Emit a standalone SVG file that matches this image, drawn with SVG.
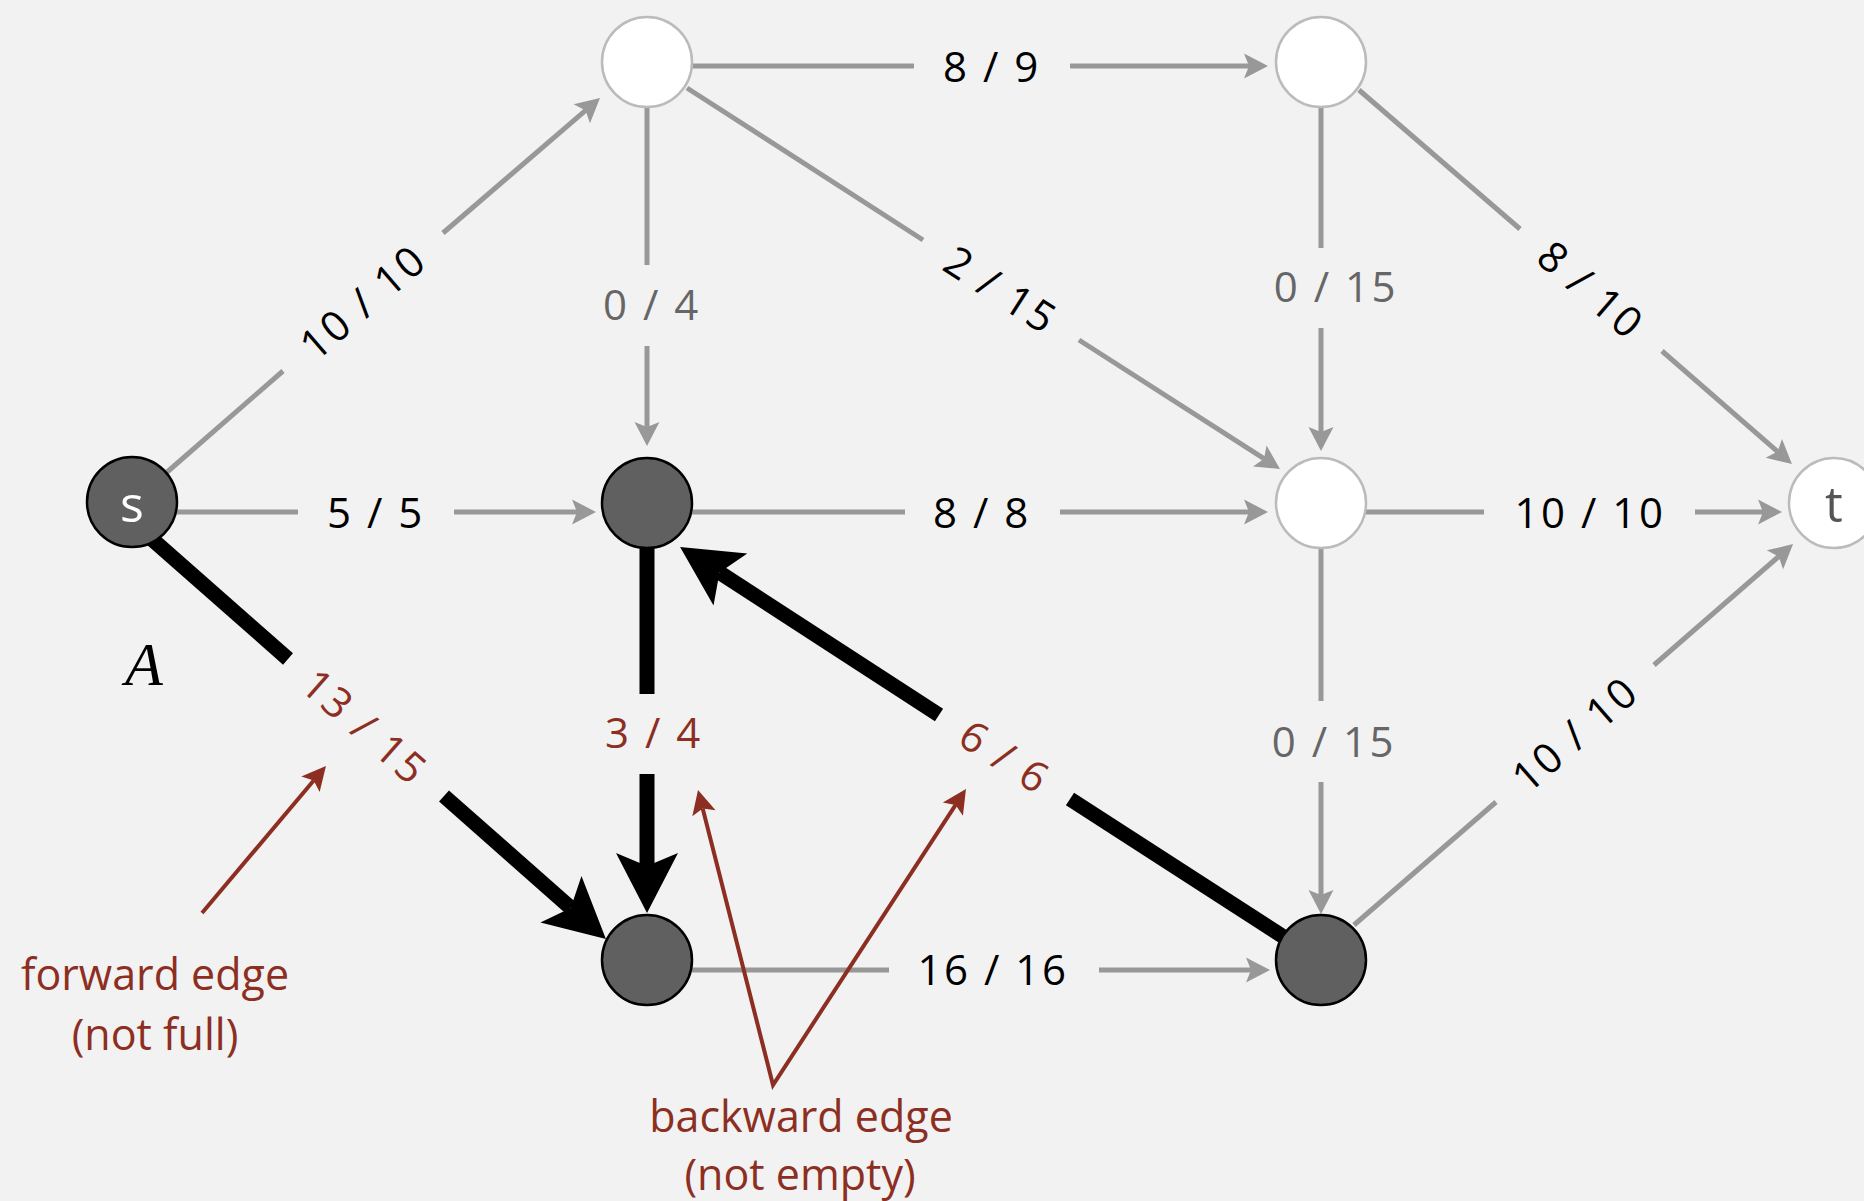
<svg xmlns="http://www.w3.org/2000/svg" width="1864" height="1201" viewBox="0 0 1864 1201">
<defs>
<style>
.bg{fill:#f2f2f2}
.e{stroke:#989898;stroke-width:5;fill:none}
.ea{stroke:#989898;stroke-width:5;fill:none;marker-end:url(#ag)}
.t{stroke:#000;stroke-width:15;fill:none}
.ta{stroke:#000;stroke-width:15;fill:none;marker-end:url(#ab)}
.r{stroke:#8c2f22;stroke-width:4;fill:none;stroke-linejoin:miter}
.lbl{font-family:"Open Sans","Liberation Sans",sans-serif;font-size:42px;letter-spacing:2.5px;text-anchor:middle;fill:#000}
.gl{fill:#666}
.rl{fill:#8c2f22}
.ann{font-family:"Open Sans","Liberation Sans",sans-serif;font-size:43px;text-anchor:middle;fill:#8c2f22}
.dk{fill:#606060;stroke:#000;stroke-width:2.5}
.wh{fill:#fff;stroke:#bbb;stroke-width:2.5}
.nl{font-family:"Open Sans","Liberation Sans",sans-serif;font-size:50px;text-anchor:middle}
</style>
<marker id="ag" markerUnits="userSpaceOnUse" viewBox="-7 -13 27 26" refX="0" refY="0" markerWidth="27" markerHeight="26" orient="auto">
<path d="M0,0 L-5,-12.5 L19,0 L-5,12.5 Z" fill="#989898"/>
</marker>
<marker id="ar" markerUnits="userSpaceOnUse" viewBox="-7 -13 27 26" refX="0" refY="0" markerWidth="27" markerHeight="26" orient="auto-start-reverse">
<path d="M0,0 L-5,-12 L19,0 L-5,12 Z" fill="#8c2f22"/>
</marker>
<marker id="ab" markerUnits="userSpaceOnUse" viewBox="-14 -32 62 64" refX="0" refY="0" markerWidth="62" markerHeight="64" orient="auto">
<path d="M0,0 L-13,-31 L47,0 L-13,31 Z" fill="#000"/>
</marker>
</defs>
<rect class="bg" x="0" y="0" width="1864" height="1201"/>

<g id="connectors">
<g id="e-s-a">
<path class="e" d="M166,473 L283,371"/>
<path class="ea" d="M443,233 L585.6,110.4"/>
<text class="lbl" transform="translate(363,302) rotate(-40.7)" x="0" y="15">10 / 10</text>
</g>
<g id="e-s-b">
<path class="e" d="M177,512 L298,512"/>
<path class="ea" d="M454,512 L577,512"/>
<text class="lbl" x="376" y="528">5 / 5</text>
</g>
<g id="e-a-b">
<path class="e" d="M647,107 L647,265"/>
<path class="ea" d="M647,346 L647,427"/>
<text class="lbl gl" x="652" y="320">0 / 4</text>
</g>
<g id="e-a-d">
<path class="e" d="M692,66 L914,66"/>
<path class="ea" d="M1070,66 L1249,66"/>
<text class="lbl" x="992" y="82">8 / 9</text>
</g>
<g id="e-a-e">
<path class="e" d="M687,88 L923,240"/>
<path class="ea" d="M1079,340 L1264,458.7"/>
<text class="lbl" transform="translate(1001,290) rotate(32.7)" x="0" y="15">2 / 15</text>
</g>
<g id="e-b-e">
<path class="e" d="M692,512 L905,512"/>
<path class="ea" d="M1060,512 L1249,512"/>
<text class="lbl" x="982" y="528">8 / 8</text>
</g>
<g id="e-d-e">
<path class="e" d="M1321,107 L1321,248"/>
<path class="ea" d="M1321,328 L1321,432"/>
<text class="lbl gl" x="1336" y="302">0 / 15</text>
</g>
<g id="e-d-t">
<path class="e" d="M1359,90 L1520,229"/>
<path class="ea" d="M1662,351 L1777.6,451.6"/>
<text class="lbl" transform="translate(1591,290) rotate(40.8)" x="0" y="15">8 / 10</text>
</g>
<g id="e-e-t">
<path class="e" d="M1366,512 L1484,512"/>
<path class="ea" d="M1695,512 L1763,512"/>
<text class="lbl" x="1590" y="528">10 / 10</text>
</g>
<g id="e-e-f">
<path class="e" d="M1321,548 L1321,701"/>
<path class="ea" d="M1321,782 L1321,895"/>
<text class="lbl gl" x="1334" y="757">0 / 15</text>
</g>
<g id="e-f-t">
<path class="e" d="M1354,925 L1496,802"/>
<path class="ea" d="M1654,665 L1778.7,556.5"/>
<text class="lbl" transform="translate(1575,734) rotate(-41)" x="0" y="15">10 / 10</text>
</g>
<g id="e-c-f">
<path class="e" d="M692,970 L889,970"/>
<path class="ea" d="M1099,970 L1251,970"/>
<text class="lbl" x="993" y="985">16 / 16</text>
</g>
<g id="e-s-c">
<path class="t" d="M145,533 L288,659"/>
<path class="ta" d="M444,796 L570.7,907.9"/>
<text class="lbl rl" transform="translate(365,727) rotate(41.3)" x="0" y="15">13 / 15</text>
</g>
<g id="e-b-c">
<path class="t" d="M647,540 L647,694"/>
<path class="ta" d="M647,774 L647,866"/>
<text class="lbl rl" x="654" y="748">3 / 4</text>
</g>
<g id="e-f-b">
<path class="t" d="M1290,941 L1070,799"/>
<path class="ta" d="M939,715 L719.5,572.5"/>
<text class="lbl rl" transform="translate(1005,757) rotate(32.9)" x="0" y="15">6 / 6</text>
</g>
<g id="ann-forward">
<path class="r" d="M202,913 L313.7,780.5" marker-end="url(#ar)"/>
</g>
<g id="ann-backward">
<path class="r" d="M702.7,808.4 L773,1085 L955.6,804.9" marker-start="url(#ar)" marker-end="url(#ar)"/>
</g>
</g>

<g id="node-s"><circle class="dk" cx="132" cy="502" r="45"/><text class="nl" x="132" y="522" fill="#fff">s</text></g>
<g id="node-a"><circle class="wh" cx="647" cy="62" r="45"/></g>
<g id="node-b"><circle class="dk" cx="647" cy="503" r="45"/></g>
<g id="node-c"><circle class="dk" cx="647" cy="960" r="45"/></g>
<g id="node-d"><circle class="wh" cx="1321" cy="62" r="45"/></g>
<g id="node-e"><circle class="wh" cx="1321" cy="503" r="45"/></g>
<g id="node-f"><circle class="dk" cx="1321" cy="960" r="45"/></g>
<g id="node-t"><circle class="wh" cx="1834" cy="503" r="45"/><text class="nl" x="1834" y="522" fill="#555">t</text></g>

<g id="annotations">
<text x="125" y="685" font-family="Liberation Serif,serif" font-style="italic" font-size="62">A</text>
<text class="ann" x="155" y="990">forward edge</text>
<text class="ann" x="155" y="1050">(not full)</text>
<text class="ann" x="801" y="1132">backward edge</text>
<text class="ann" x="800" y="1190">(not empty)</text>
</g>
</svg>
